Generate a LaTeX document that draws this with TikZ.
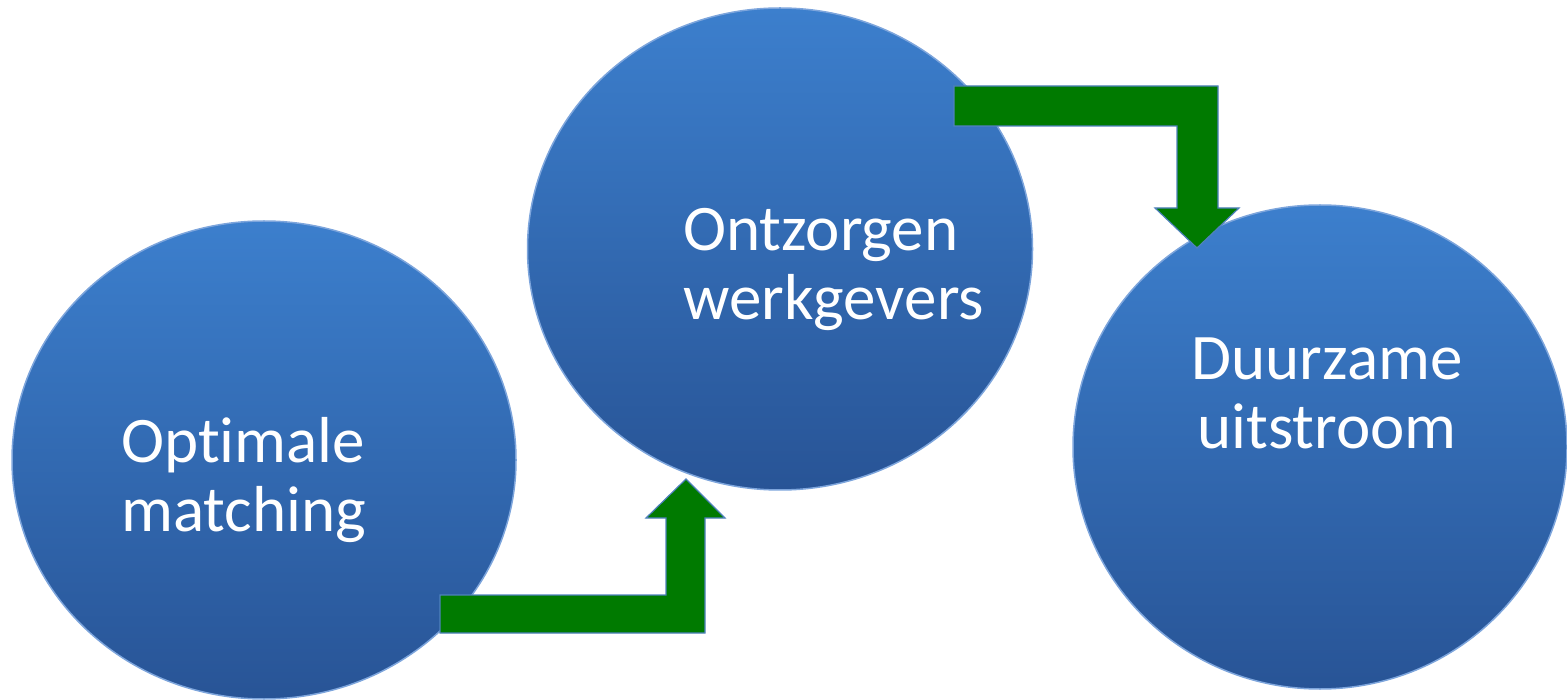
\documentclass[tikz,border=0pt]{standalone}
\usepackage{fontspec}
\setmainfont{Carlito}[Ligatures=NoCommon]
\usetikzlibrary{shapes.geometric}
\definecolor{balltop}{RGB}{60,127,205}
\definecolor{ballbottom}{RGB}{40,84,150}
\definecolor{ballrim}{RGB}{125,165,220}
\definecolor{arrowgreen}{RGB}{0,122,0}
\definecolor{arrowrim}{RGB}{79,129,189}

\begin{document}
\begin{tikzpicture}[x=1pt, y=-1pt,
    ball/.style={ellipse, inner sep=0pt, top color=balltop, bottom color=ballbottom, draw=ballrim, line width=1.5pt},
    balltext/.style={anchor=base west, align=left, inner sep=0pt, text=white, font=\fontsize{65}{69}\selectfont},
    bentarrow/.style={fill=arrowgreen, draw=arrowrim, line width=1.2pt, line join=miter}]
            \useasboundingbox (0,0) rectangle (1567,700);

            \node[ball, minimum width=504pt, minimum height=478pt] at (264,460) (optimaal) {};
            \node[ball, minimum width=505pt, minimum height=482pt] at (780,249) (ontzorg) {};
            \node[ball, minimum width=494pt, minimum height=484pt] at (1320,447) (duurzaam) {};

            \node[balltext] at (121,531) (optimaal_txt) {Optimale\\matching};
            \node[balltext] at (683,320) (ontzorg_txt) {Ontzorgen\\werkgevers};
            \node[balltext, anchor=base, align=center] at (1327,449) (duurzaam_txt) {Duurzame\\uitstroom};

            % bent arrows
            \draw[bentarrow] (440,595) -- (666,595) -- (666,518) -- (646,518) -- (686,479)
                -- (725,518) -- (705,518) -- (705,633) -- (440,633) -- cycle;
            \draw[bentarrow] (954,86) -- (1218,86) -- (1218,208) -- (1239,208) -- (1197,248)
                -- (1155,208) -- (1177,208) -- (1177,126) -- (954,126) -- cycle;
        \end{tikzpicture}
\end{document}
